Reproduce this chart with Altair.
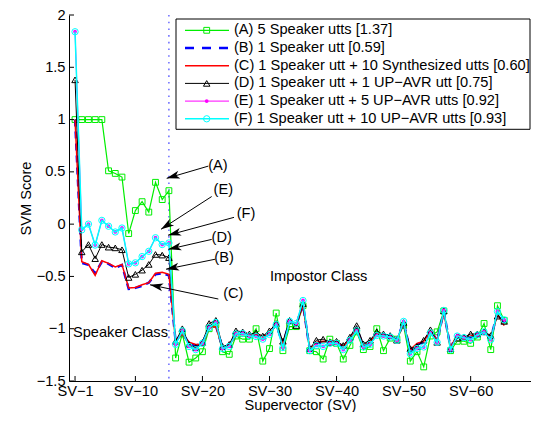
import math
import altair as alt
import pandas as pd

# ---------------- data ----------------
sv = list(range(1, 66))

score_a = [1.0, 1.0, 1.0, 1.0, 1.0, 0.51, 0.485, 0.45, -0.09, 0.13, 0.215, 0.115, 0.40, 0.235, 0.32,
           -1.28, -1.05, -1.32, -1.28, -1.22, -1.00, -0.96, -1.22, -1.245, -1.07, -1.10, -1.10, -1.00, -1.31, -1.19,
           -0.85, -1.21, -0.98, -0.98, -0.78, -1.21, -1.22, -1.29, -1.10, -1.14, -1.29, -1.16, -1.03, -1.20, -1.17,
           -1.00, -1.21, -1.09, -1.10, -0.97, -1.31, -1.22, -1.365, -1.07, -1.03, -0.83, -1.21, -1.12, -1.12, -1.14,
           -1.08, -0.95, -1.20, -0.78, -0.92]
score_b = [1.0, -0.37, -0.39, -0.47, -0.36, -0.38, -0.42, -0.39, -0.62, -0.61, -0.59, -0.56, -0.48, -0.47, -0.49,
           -1.12, -1.04, -1.14, -1.16, -1.14, -0.98, -0.97, -1.18, -1.16, -1.05, -1.04, -1.06, -1.06, -1.09, -1.04,
           -0.96, -1.15, -0.93, -0.96, -0.77, -1.20, -1.14, -1.13, -1.12, -1.12, -1.18, -1.10, -1.00, -1.16, -1.13,
           -1.05, -1.06, -1.07, -1.10, -0.94, -1.21, -1.15, -1.13, -1.02, -1.11, -0.84, -1.18, -1.06, -1.08, -1.08,
           -1.05, -1.03, -1.09, -0.85, -0.95]
score_c = [1.0, -0.36, -0.385, -0.49, -0.35, -0.375, -0.41, -0.385, -0.61, -0.605, -0.58, -0.56, -0.47, -0.46, -0.48,
           -1.11, -1.05, -1.13, -1.15, -1.15, -0.99, -0.98, -1.18, -1.16, -1.06, -1.04, -1.05, -1.05, -1.08, -1.04,
           -0.97, -1.14, -0.94, -0.96, -0.78, -1.19, -1.13, -1.12, -1.12, -1.12, -1.17, -1.10, -1.00, -1.16, -1.12,
           -1.05, -1.06, -1.07, -1.10, -0.95, -1.20, -1.14, -1.12, -1.02, -1.11, -0.85, -1.18, -1.06, -1.08, -1.07,
           -1.05, -1.03, -1.09, -0.86, -0.97]
score_d = [1.38, -0.265, -0.195, -0.33, -0.195, -0.22, -0.227, -0.245, -0.51, -0.48, -0.44, -0.385, -0.29, -0.296, -0.32,
           -1.12, -1.00, -1.15, -1.18, -1.13, -0.95, -0.92, -1.17, -1.15, -1.02, -1.03, -1.05, -1.04, -1.07, -1.02,
           -0.95, -1.12, -0.92, -0.97, -0.76, -1.19, -1.11, -1.10, -1.13, -1.12, -1.16, -1.08, -0.97, -1.145, -1.11,
           -1.03, -1.05, -1.065, -1.11, -0.94, -1.19, -1.17, -1.11, -1.01, -1.13, -0.83, -1.19, -1.09, -1.08, -1.05,
           -1.05, -1.03, -1.065, -0.88, -0.93]
score_e = [1.84, -0.05, 0.0, -0.20, 0.035, -0.02, -0.075, -0.035, -0.38, -0.37, -0.31, -0.26, -0.13, -0.195, -0.18,
           -1.15, -1.02, -1.17, -1.20, -1.14, -0.99, -0.94, -1.19, -1.17, -1.05, -1.045, -1.07, -1.075, -1.10, -1.055,
           -0.96, -1.18, -0.93, -0.95, -0.73, -1.21, -1.16, -1.17, -1.14, -1.14, -1.20, -1.11, -1.02, -1.175, -1.15,
           -1.065, -1.07, -1.08, -1.11, -0.93, -1.24, -1.19, -1.175, -1.04, -1.13, -0.825, -1.20, -1.07, -1.085, -1.105,
           -1.06, -1.03, -1.105, -0.835, -0.915]
score_f = [1.84, -0.055, 0.0, -0.20, 0.036, -0.02, -0.075, -0.037, -0.38, -0.37, -0.31, -0.26, -0.13, -0.195, -0.18,
           -1.15, -1.02, -1.17, -1.20, -1.14, -0.99, -0.94, -1.19, -1.17, -1.05, -1.045, -1.07, -1.075, -1.10, -1.055,
           -0.96, -1.18, -0.93, -0.95, -0.73, -1.21, -1.16, -1.17, -1.14, -1.14, -1.20, -1.11, -1.02, -1.175, -1.15,
           -1.065, -1.07, -1.08, -1.11, -0.93, -1.24, -1.19, -1.175, -1.04, -1.13, -0.825, -1.20, -1.07, -1.085, -1.105,
           -1.06, -1.03, -1.105, -0.835, -0.915]

labels = ["(A) 5 Speaker utts [1.37]",
          "(B) 1 Speaker utt [0.59]",
          "(C) 1 Speaker utt + 10 Synthesized utts [0.60]",
          "(D) 1 Speaker utt + 1 UP\u2212AVR utt [0.75]",
          "(E) 1 Speaker utt + 5 UP\u2212AVR utts [0.92]",
          "(F) 1 Speaker utt + 10 UP\u2212AVR utts [0.93]"]

x_ticks = [1, 10, 20, 30, 40, 50, 60]
y_ticks = [-1.5, -1.0, -0.5, 0.0, 0.5, 1.0, 1.5, 2.0]
boundary = [15]

# annotation labels: text position, arrow tail, arrow tip (data units)
ann_label = ["(A)", "(E)", "(F)", "(D)", "(B)", "(C)"]
ann_tx = [22.32, 23.11, 26.50, 22.87, 23.22, 24.60]
ann_ty = [0.558, 0.328, 0.096, -0.137, -0.327, -0.668]
ann_x0 = [20.88, 21.38, 24.71, 21.38, 21.87, 22.37]
ann_y0 = [0.555, 0.264, 0.065, -0.146, -0.336, -0.716]
ann_x1 = [14.67, 13.82, 14.87, 14.91, 14.57, 12.18]
ann_y1 = [0.438, -0.049, -0.106, -0.241, -0.431, -0.580]

class_text = ["Speaker Class", "Impostor Class"]
class_x = [0.70, 30.08]
class_y = [-1.04, -0.504]

# ---------------- layout / style ----------------
PAD_L, PAD_T = 61, 7
OX, OY = 8 + PAD_L, 8 + PAD_T          # page position of plot origin
W, H = 462, 366
XDOM = [0.1, 69.0]
YDOM = [-1.5, 2.0]
KX = W / (XDOM[1] - XDOM[0])
KY = H / (YDOM[1] - YDOM[0])
FONT = "Liberation Sans"
FS = 14.6

xscale = alt.Scale(domain=XDOM, nice=False, zero=False)
yscale = alt.Scale(domain=YDOM, nice=False, zero=False)
xaxis = alt.Axis(values=x_ticks, title="Supervector (SV)", labelExpr="'SV\u2212' + datum.value")
yaxis = alt.Axis(values=y_ticks, title="SVM Score", format="~g",
                 labelExpr="replace(datum.label, '-', '\u2212')")


def X(f):
    return alt.X(f, scale=xscale, axis=xaxis)


def Y(f):
    return alt.Y(f, scale=yscale, axis=yaxis)


styles = [
    dict(v=score_a, color="#00ee00", dash=None, width=1.2, shape="square", filled=False, size=34),
    dict(v=score_b, color="#0000ff", dash=[7, 5], width=2.4, shape=None, filled=False, size=0),
    dict(v=score_c, color="#ff0000", dash=None, width=1.5, shape=None, filled=False, size=0),
    dict(v=score_d, color="#000000", dash=None, width=1.0, shape="triangle-up", filled=False, size=42),
    dict(v=score_e, color="#ff00ff", dash=None, width=1.0, shape="circle", filled=True, size=14),
    dict(v=score_f, color="#00ffff", dash=None, width=1.5, shape="circle", filled=False, size=40),
]

layers = []

# boundary dotted line
layers.append(
    alt.Chart(pd.DataFrame({"sv": boundary})).mark_rule(
        color="#4646ff", strokeWidth=1.2, strokeDash=[1.6, 5.1]
    ).encode(x=X("sv:Q"))
)

for st in styles:
    df = pd.DataFrame({"sv": sv, "score": st["v"]})
    lk = dict(color=st["color"], strokeWidth=st["width"])
    if st["dash"]:
        lk["strokeDash"] = st["dash"]
    layers.append(alt.Chart(df).mark_line(**lk).encode(x=X("sv:Q"), y=Y("score:Q")))
    if st["shape"]:
        pk = dict(shape=st["shape"], size=st["size"], filled=st["filled"], color=st["color"],
                  strokeWidth=1, opacity=1)
        layers.append(alt.Chart(df).mark_point(**pk).encode(x=X("sv:Q"), y=Y("score:Q")))

# inward ticks
layers.append(alt.Chart(pd.DataFrame({"t": y_ticks})).mark_rule(color="black", strokeWidth=1).encode(
    y=Y("t:Q"), x=alt.value(0), x2=alt.value(5)))
layers.append(alt.Chart(pd.DataFrame({"t": x_ticks})).mark_rule(color="black", strokeWidth=1).encode(
    x=X("t:Q"), y=alt.value(H), y2=alt.value(H - 5)))

# legend (manual, MATLAB style); page-pixel layout converted to plot-relative
box = pd.DataFrame({"a": [0]})
layers.append(alt.Chart(box).mark_rect(fill="white", stroke="black", strokeWidth=1).encode(
    x=alt.value(176 - OX), x2=alt.value(530 - OX), y=alt.value(19 - OY), y2=alt.value(129.3 - OY)))
row_px = [30.3 - OY + 17.7 * r for r in range(6)]
row_y = [YDOM[1] - p / KY for p in row_px]
for r, st in enumerate(styles):
    d = pd.DataFrame({"ly": [row_y[r]]})
    lk = dict(color=st["color"], strokeWidth=st["width"])
    if st["dash"]:
        lk["strokeDash"] = [9, 8]
        lk["strokeWidth"] = 2.6
    layers.append(alt.Chart(d).mark_rule(**lk).encode(
        y=Y("ly:Q"), x=alt.value(185 - OX), x2=alt.value(229 - OX)))
    if st["shape"]:
        layers.append(alt.Chart(d).mark_point(shape=st["shape"], size=st["size"], filled=st["filled"],
                                              color=st["color"], strokeWidth=1, opacity=1).encode(
            y=Y("ly:Q"), x=alt.value(206.7 - OX)))
leg = pd.DataFrame({"ly": row_y, "label": labels})
layers.append(alt.Chart(leg).mark_text(align="left", baseline="middle", font=FONT, fontSize=FS,
                                       color="black").encode(
    y=Y("ly:Q"), x=alt.value(234 - OX), text="label:N"))

# annotations with arrows
angles = []
for i in range(len(ann_label)):
    dx = (ann_x1[i] - ann_x0[i]) * KX
    dy = -(ann_y1[i] - ann_y0[i]) * KY
    angles.append(math.degrees(math.atan2(dx, -dy)) % 360)
ann = pd.DataFrame({"label": ann_label, "tx": ann_tx, "ty": ann_ty, "x0": ann_x0, "y0": ann_y0,
                    "x1": ann_x1, "y1": ann_y1, "ang": angles})
layers.append(alt.Chart(ann).mark_rule(color="black", strokeWidth=1).encode(
    x=X("x0:Q"), y=Y("y0:Q"), x2="x1:Q", y2="y1:Q"))
layers.append(alt.Chart(ann).mark_point(shape="M0,0L0.75,2.5L0,1.85L-0.75,2.5Z", size=110,
                                        filled=True, color="black", opacity=1).encode(
    x=X("x1:Q"), y=Y("y1:Q"), angle=alt.Angle("ang:Q", scale=None)))
layers.append(alt.Chart(ann).mark_text(align="center", baseline="middle", font=FONT, fontSize=FS,
                                       color="black").encode(
    x=X("tx:Q"), y=Y("ty:Q"), text="label:N"))

cls = pd.DataFrame({"t": class_text, "x": class_x, "y": class_y})
layers.append(alt.Chart(cls).mark_text(align="left", baseline="middle", font=FONT, fontSize=FS,
                                       color="black").encode(
    x=X("x:Q"), y=Y("y:Q"), text="t:N"))

chart = alt.layer(*layers).properties(
    width=W, height=H,
    autosize=alt.AutoSizeParams(type="none"),
    padding={"left": PAD_L, "top": PAD_T, "right": 0, "bottom": 31},
    background="white",
).configure_view(stroke=None).configure_axis(
    grid=False, ticks=False, domain=True, domainColor="black", domainWidth=1,
    labelFont=FONT, labelFontSize=FS, labelColor="black",
    titleFont=FONT, titleFontSize=FS, titleFontWeight="normal", titleColor="black",
).configure_axisX(labelPadding=2, titlePadding=0).configure_axisY(labelPadding=4, titlePadding=3)

chart.save("out.html", embed_options={"renderer": "svg", "actions": False})
